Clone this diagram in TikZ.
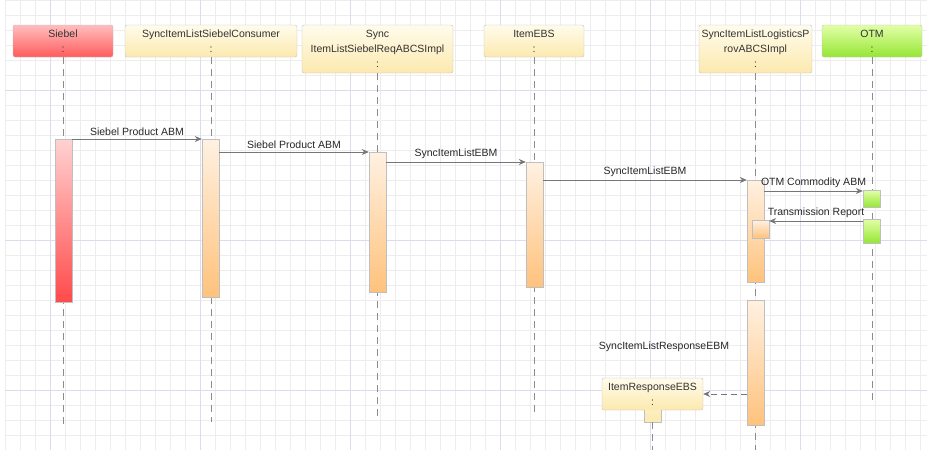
\documentclass[tikz,border=0pt]{standalone}
\usepackage{fontspec}
\setmainfont{Liberation Sans}
\usetikzlibrary{positioning,calc,arrows.meta}

\definecolor{gridfine}{HTML}{EDEDED}
\definecolor{gridmajor}{HTML}{DCDCEC}
\definecolor{headtop}{HTML}{FFFCEC}
\definecolor{headbot}{HTML}{FCE9AE}
\definecolor{redtop}{HTML}{FFBEBE}
\definecolor{redbot}{HTML}{FF5C5C}
\definecolor{greentop}{HTML}{E2FFA8}
\definecolor{greenbot}{HTML}{96E634}
\definecolor{bartop}{HTML}{FFF1E2}
\definecolor{barbot}{HTML}{FFC27C}
\definecolor{redbartop}{HTML}{FFD2D2}
\definecolor{redbarbot}{HTML}{FF4A4A}
\definecolor{linegray}{HTML}{767676}

\begin{document}
\begin{tikzpicture}[x=1pt, y=-1pt,
    font=\fontsize{10.5}{15}\selectfont,
    headbox/.style={draw=black!25, rounded corners=2pt, align=center,
        inner sep=0pt, top color=headtop, bottom color=headbot,
        text=black!80, minimum height=32},
    redhead/.style={headbox, top color=redtop, bottom color=redbot},
    greenhead/.style={headbox, top color=greentop, bottom color=greenbot},
    actbar/.style={draw=black!25, anchor=north, inner sep=0pt,
        minimum width=17, top color=bartop, bottom color=barbot},
    redbar/.style={actbar, top color=redbartop, bottom color=redbarbot},
    greenbar/.style={actbar, top color=greentop, bottom color=greenbot},
    life/.style={draw=black!45, dash pattern=on 7pt off 5pt},
    msg/.style={draw=linegray, -{Stealth[length=7pt,width=6pt]}},
    reply/.style={msg, dash pattern=on 6pt off 4pt},
    msglabel/.style={above, inner sep=3pt, text=black!85}]

        % grid of the editor
        \useasboundingbox (0,0) rectangle (927,450);
        \foreach \x in {5,20,...,925}
            \draw[gridfine, line width=0.7pt] (\x,0) -- (\x,450);
        \foreach \y in {0,15,...,435}
            \draw[gridfine, line width=0.7pt] (5,\y) -- (927,\y);
        \foreach \x in {50,200,...,800}
            \draw[gridmajor, line width=0.8pt] (\x,0) -- (\x,450);
        \foreach \y in {90,240,390}
            \draw[gridmajor, line width=0.8pt] (5,\y) -- (927,\y);

        % lifeline heads
        \node[redhead, minimum width=100] (siebel) at (63,41) {Siebel\\:};
        \node[headbox, minimum width=172] (consumer) at (211,41)
            {SyncItemListSiebelConsumer\\:};
        \node[headbox, minimum width=151, minimum height=48] (reqabcs)
            at (377.5,49) {Sync\\ItemListSiebelReqABCSImpl\\:};
        \node[headbox, minimum width=100] (itemebs) at (534,41) {ItemEBS\\:};
        \node[headbox, minimum width=113, minimum height=48] (logabcs)
            at (755.5,49) {SyncItemListLogisticsP\\rovABCSImpl\\:};
        \node[greenhead, minimum width=100] (otm) at (872,41) {OTM\\:};

        % lifelines
        \draw[life] (siebel.south) -- ++(0,370);
        \draw[life] (consumer.south) -- ++(0,365);
        \draw[life] (reqabcs.south) -- ++(0,344);
        \draw[life] (itemebs.south) -- ++(0,355);
        \draw[life] (logabcs.south) -- ++(0,377);
        \draw[life] (otm.south) -- ++(0,344);

        % activations
        \node[redbar, minimum height=163] (S1) at (63.5,139) {};
        \node[actbar, minimum height=158] (C1) at (210.5,139) {};
        \node[actbar, minimum height=140] (R1) at (377.5,152) {};
        \node[actbar, minimum height=125] (E1) at (534.5,162) {};
        \node[actbar, minimum height=102] (L1) at (755.5,180) {};
        \node[actbar, minimum height=18] (L2) at (760.5,220) {};
        \node[actbar, minimum height=125] (L3) at (755.5,300) {};
        \node[greenbar, minimum height=17] (O1) at (871.5,190) {};
        \node[greenbar, minimum height=24] (O2) at (871.5,219) {};

        % created participant
        \node[headbox, minimum width=101] (itemresp) at (652.5,394)
            {ItemResponseEBS\\:};
        \draw[draw=black!25, top color=headbot!70!headtop, bottom color=headbot]
            ([xshift=-8.5pt]itemresp.south) rectangle
            ([xshift=8.5pt,yshift=-12pt]itemresp.south);
        \fill[headbot!85!headtop] ([xshift=-8pt,yshift=0.8pt]itemresp.south)
            rectangle ([xshift=8pt,yshift=-0.8pt]itemresp.south);
        \draw[life] ([yshift=-12pt]itemresp.south) -- ++(0,30);

        % messages
        \begin{scope}[line width=0.8pt]
            \draw[msg] (S1.east |- C1.north) -- (C1.north west)
                node[msglabel, midway] {Siebel Product ABM};
            \draw[msg] (C1.east |- R1.north) -- (R1.north west)
                node[msglabel, midway] {Siebel Product ABM};
            \draw[msg] (R1.east |- E1.north) -- (E1.north west)
                node[msglabel, midway] {SyncItemListEBM};
            \draw[msg] (E1.east |- L1.north) -- (L1.north west)
                node[msglabel, midway] {SyncItemListEBM};
            \draw[msg] ([yshift=-1pt]L1.east |- O1.north) --
                ([yshift=-1pt]O1.north west)
                node[msglabel, midway] {OTM Commodity ABM};
            \draw[msg] ([yshift=-2pt]O2.north west) --
                ([yshift=-2pt]L2.east |- O2.north)
                node[msglabel, midway] {Transmission Report};
            \draw[reply] (L3.west |- itemresp.east) -- (itemresp.east);
        \end{scope}
        \node[text=black!85] (resplabel) at (664,347)
            {SyncItemListResponseEBM};

\end{tikzpicture}
\end{document}
